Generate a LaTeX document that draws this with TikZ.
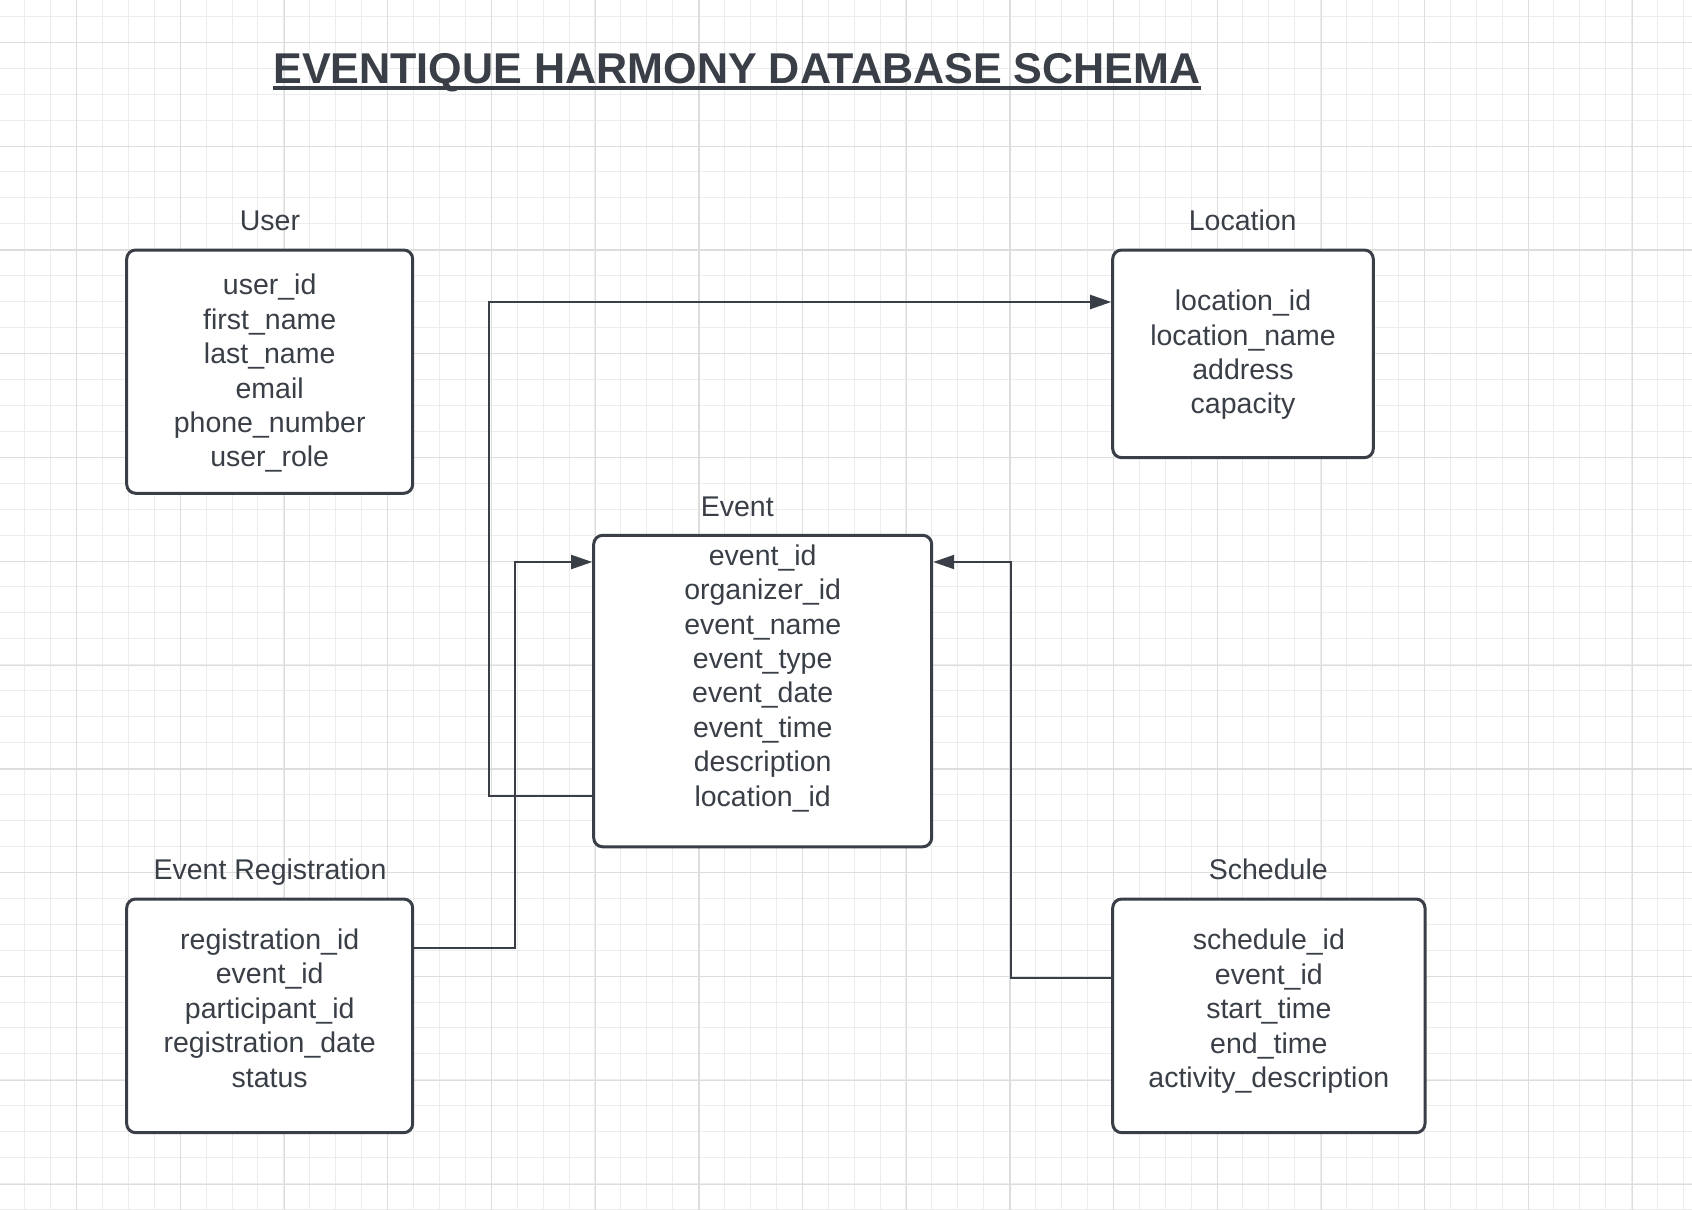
\documentclass[tikz,border=0pt]{standalone}
\usepackage{fontspec}
\setmainfont{Liberation Sans}
\usetikzlibrary{arrows.meta}
\definecolor{ink}{RGB}{58,63,71}
\definecolor{gridminor}{RGB}{236,236,236}
\definecolor{gridmajor}{RGB}{221,221,221}

\begin{document}
\begin{tikzpicture}[x=0.5pt,y=-0.5pt,
    >={Triangle[length=10.5pt,width=7pt]},
    tablebox/.style={draw=ink,line width=1.5pt,rounded corners=4.5pt,fill=white},
    fields/.style={text=ink,align=center,inner sep=0pt,font=\fontsize{14.25}{17.2}\selectfont},
    tabletitle/.style={text=ink,anchor=base,inner sep=0pt,font=\fontsize{14.25}{17.2}\selectfont},
    link/.style={draw=ink,line width=1pt}]
  \useasboundingbox (0,0) rectangle (1692,1210);
  \fill[white] (0,0) rectangle (1692,1210);
  % grid
  \foreach \i in {0,...,64}
    \draw[gridminor,line width=0.5pt] (24.7+25.92*\i,0) -- (24.7+25.92*\i,1210);
  \foreach \j in {0,...,46}
    \draw[gridminor,line width=0.5pt] (0,16.3+25.94*\j) -- (1692,16.3+25.94*\j);
  \foreach \i in {0,...,15}
    \draw[gridmajor,line width=0.6pt] (76.7+103.7*\i,0) -- (76.7+103.7*\i,1210);
  \foreach \j in {0,...,11}
    \draw[gridmajor,line width=0.6pt] (0,42.3+103.8*\j) -- (1692,42.3+103.8*\j);

  \node[text=ink,anchor=base,inner sep=0pt,font=\fontsize{21.55}{25}\selectfont\bfseries] (title) at (737,83.3) {EVENTIQUE HARMONY DATABASE SCHEMA};
  \draw[ink,line width=2pt] ([yshift=-2.5pt]title.base west) -- ([yshift=-2.5pt]title.base east);

  % tables
  \node[tablebox,minimum width=143pt,minimum height=121.65pt] (user) at (269.7,371.65) {};
  \node[tabletitle] (usertitle) at (270,230.7) {User};
  \node[fields] (userfields) at (269.7,373.4) {user\_id\\first\_name\\last\_name\\email\\phone\_number\\user\_role};

  \node[tablebox,minimum width=130.3pt,minimum height=103.85pt] (location) at (1243,353.85) {};
  \node[tabletitle] (locationtitle) at (1242.7,230.5) {Location};
  \node[fields] (locationfields) at (1243,354.9) {location\_id\\location\_name\\address\\capacity};

  \node[tablebox,minimum width=169pt,minimum height=155.75pt] (event) at (762.7,691.05) {};
  \node[tabletitle] (eventtitle) at (737.3,516.8) {Event};
  \node[fields] (eventfields) at (762.7,678.1) {event\_id\\organizer\_id\\event\_name\\event\_type\\event\_date\\event\_time\\description\\location\_id};

  \node[tablebox,minimum width=143pt,minimum height=116.85pt] (reg) at (269.7,1015.85) {};
  \node[tabletitle] (regtitle) at (270,879) {Event Registration};
  \node[fields] (regfields) at (269.7,1008.1) {registration\_id\\event\_id\\participant\_id\\registration\_date\\status};

  \node[tablebox,minimum width=156.15pt,minimum height=116.85pt] (schedule) at (1268.85,1015.85) {};
  \node[tabletitle] (scheduletitle) at (1268.3,879) {Schedule};
  \node[fields] (schedulefields) at (1268.85,1011.4) {schedule\_id\\event\_id\\start\_time\\end\_time\\activity\_description};

  % links
  \draw[link,->] ([yshift=26.1pt]event.south west) -- ++(-51.45pt,0) |- ([yshift=-26.75pt]location.north west);
  \draw[link,->] ([yshift=-25.1pt]reg.north east) -- ++(50.4pt,0) |- ([yshift=-14.1pt]event.north west);
  \draw[link,->] ([yshift=-40.1pt]schedule.north west) -- ++(-50.25pt,0) |- ([yshift=-14.1pt]event.north east);
\end{tikzpicture}
\end{document}
